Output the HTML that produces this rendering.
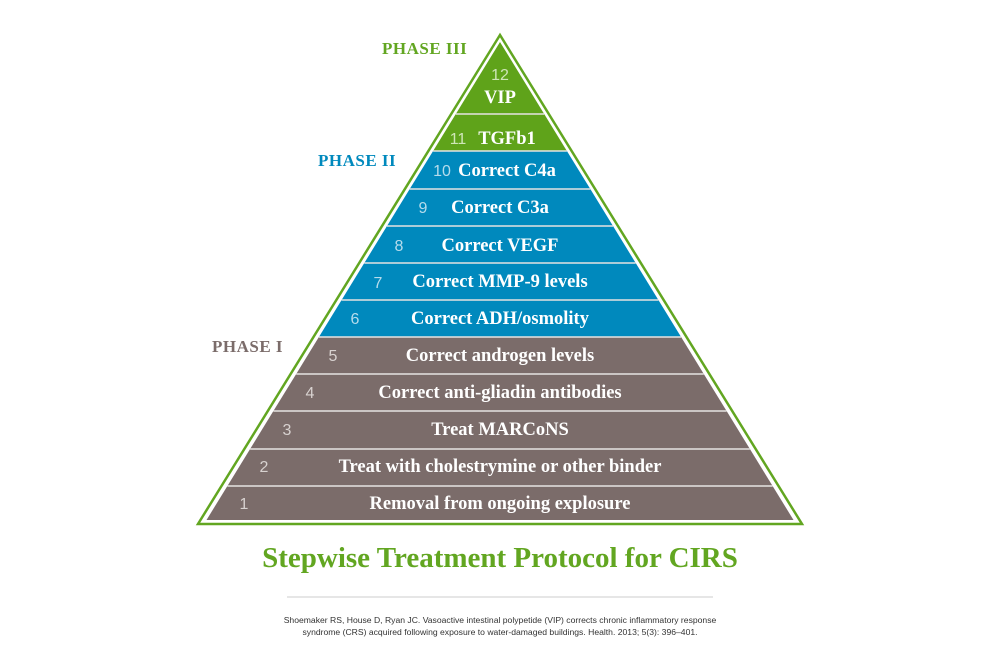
<!DOCTYPE html>
<html><head><meta charset="utf-8"><style>
html,body{margin:0;padding:0;background:#fff;}
svg{display:block}
.t{font-family:"Liberation Serif",serif;font-weight:bold;font-size:18.5px;fill:#fff;text-anchor:middle}
.n{font-family:"Liberation Sans",sans-serif;font-size:16px;fill:#d8d2d0;text-anchor:middle}
.p{font-family:"Liberation Serif",serif;font-weight:bold;font-size:17px;letter-spacing:0.5px}
</style></head><body>
<svg width="1000" height="667" viewBox="0 0 1000 667">
<polygon points="500,35 198,524 802,524" fill="#fff" stroke="#62a621" stroke-width="2.5"/>
<polygon points="500,42 455.8,114 544.2,114" fill="#5fa31a"/>
<polygon points="455.8,114 544.2,114 566.9,151 433.1,151" fill="#5fa31a"/>
<polygon points="433.1,151 566.9,151 590.3,189 409.7,189" fill="#0089bd"/>
<polygon points="409.7,189 590.3,189 613,226 387,226" fill="#0089bd"/>
<polygon points="387,226 613,226 635.7,263 364.3,263" fill="#0089bd"/>
<polygon points="364.3,263 635.7,263 658.4,300 341.6,300" fill="#0089bd"/>
<polygon points="341.6,300 658.4,300 681.1,337 318.9,337" fill="#0089bd"/>
<polygon points="318.9,337 681.1,337 703.8,374 296.2,374" fill="#7b6c6a"/>
<polygon points="296.2,374 703.8,374 726.6,411 273.4,411" fill="#7b6c6a"/>
<polygon points="273.4,411 726.6,411 749.9,449 250.1,449" fill="#7b6c6a"/>
<polygon points="250.1,449 749.9,449 772.6,486 227.4,486" fill="#7b6c6a"/>
<polygon points="227.4,486 772.6,486 793.5,520 206.5,520" fill="#7b6c6a"/>
<g stroke="#e6e3e2" stroke-width="1.5">
<line x1="455.8" y1="114" x2="544.2" y2="114"/>
<line x1="433.1" y1="151" x2="566.9" y2="151"/>
<line x1="409.7" y1="189" x2="590.3" y2="189"/>
<line x1="387" y1="226" x2="613" y2="226"/>
<line x1="364.3" y1="263" x2="635.7" y2="263"/>
<line x1="341.6" y1="300" x2="658.4" y2="300"/>
<line x1="318.9" y1="337" x2="681.1" y2="337"/>
<line x1="296.2" y1="374" x2="703.8" y2="374"/>
<line x1="273.4" y1="411" x2="726.6" y2="411"/>
<line x1="250.1" y1="449" x2="749.9" y2="449"/>
<line x1="227.4" y1="486" x2="772.6" y2="486"/>
</g>
<text class="n" x="500" y="80" style="fill:#cfe6b8">12</text>
<text class="t" x="500" y="103">VIP</text>
<text class="n" x="458" y="144" style="fill:#cfe6b8">11</text>
<text class="t" x="507" y="144">TGFb1</text>
<text class="n" x="442" y="176" style="fill:#b6dcec">10</text>
<text class="t" x="507" y="176">Correct C4a</text>
<text class="n" x="423" y="213" style="fill:#b6dcec">9</text>
<text class="t" x="500" y="213">Correct C3a</text>
<text class="n" x="399" y="251" style="fill:#b6dcec">8</text>
<text class="t" x="500" y="251">Correct VEGF</text>
<text class="n" x="378" y="288" style="fill:#b6dcec">7</text>
<text class="t" x="500" y="287">Correct MMP-9 levels</text>
<text class="n" x="355" y="324" style="fill:#b6dcec">6</text>
<text class="t" x="500" y="324">Correct ADH/osmolity</text>
<text class="n" x="333" y="361">5</text>
<text class="t" x="500" y="361">Correct androgen levels</text>
<text class="n" x="310" y="398">4</text>
<text class="t" x="500" y="398">Correct anti-gliadin antibodies</text>
<text class="n" x="287" y="435">3</text>
<text class="t" x="500" y="435">Treat MARCoNS</text>
<text class="n" x="264" y="472">2</text>
<text class="t" x="500" y="472">Treat with cholestrymine or other binder</text>
<text class="n" x="244" y="509">1</text>
<text class="t" x="500" y="509">Removal from ongoing explosure</text>
<text class="p" x="382" y="54" fill="#62a621">PHASE III</text>
<text class="p" x="318" y="166" fill="#0089bd">PHASE II</text>
<text class="p" x="212" y="352" fill="#7b6c6a">PHASE I</text>
<text x="500" y="567" text-anchor="middle" style="font-family:'Liberation Serif',serif;font-weight:bold;font-size:29px;fill:#62a621">Stepwise Treatment Protocol for CIRS</text>
<line x1="287" y1="597" x2="713" y2="597" stroke="#cccccc" stroke-width="1"/>
<text x="500" y="623" text-anchor="middle" style="font-family:'Liberation Sans',sans-serif;font-size:8.6px;fill:#333">Shoemaker RS, House D, Ryan JC. Vasoactive intestinal polypetide (VIP) corrects chronic inflammatory response</text>
<text x="500" y="635" text-anchor="middle" style="font-family:'Liberation Sans',sans-serif;font-size:8.6px;fill:#333">syndrome (CRS) acquired following exposure to water-damaged buildings. Health. 2013; 5(3): 396–401.</text>
</svg>
</body></html>
